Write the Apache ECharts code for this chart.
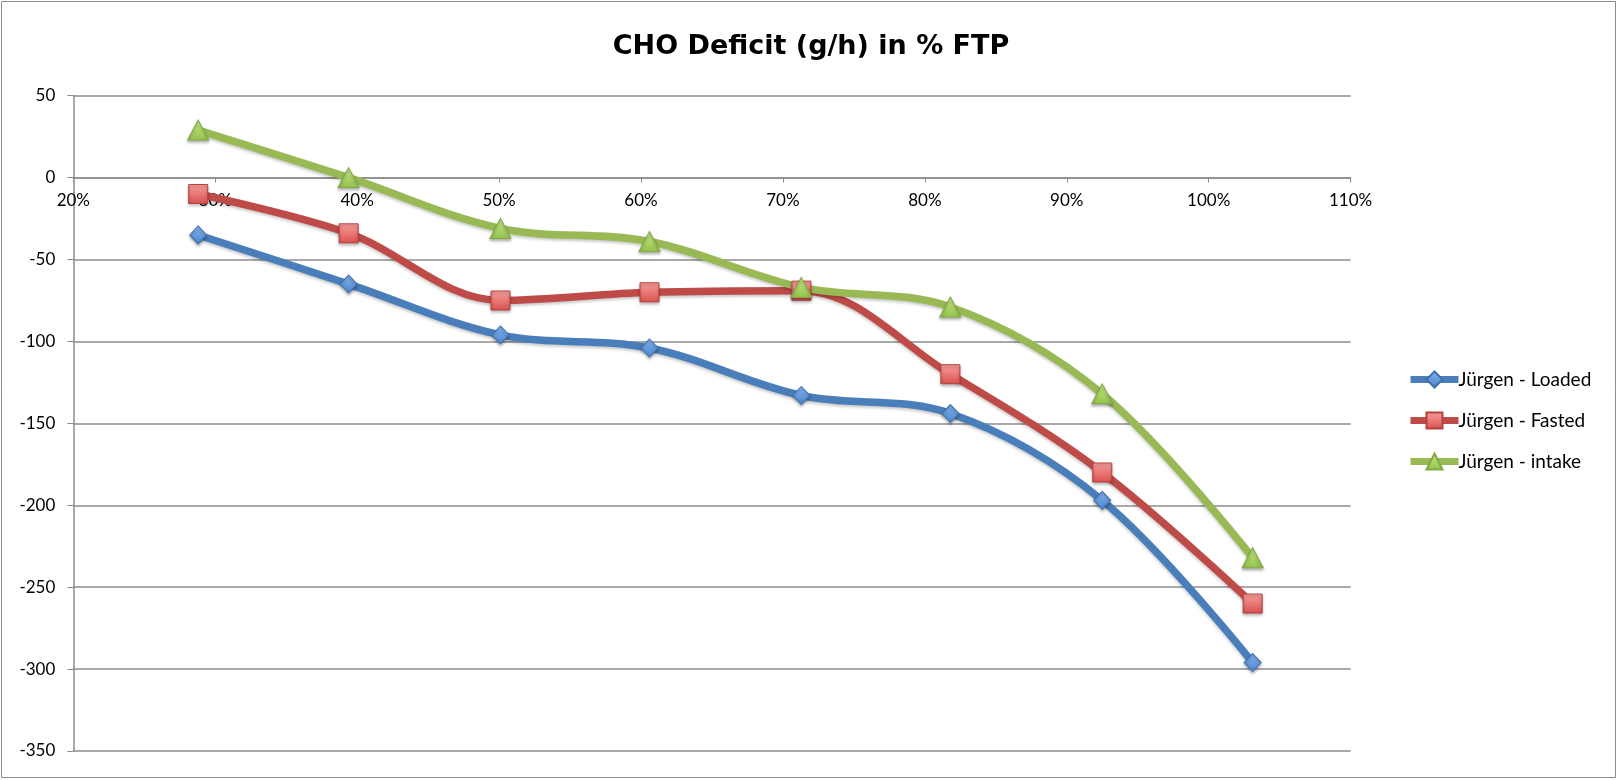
<!DOCTYPE html>
<html>
<head>
<meta charset="utf-8">
<script src="https://cdn.jsdelivr.net/npm/echarts@6/dist/echarts.min.js"></script>
<style>
html,body{margin:0;padding:0;background:#fff;}
#chart{width:1619px;height:780px;}
</style>
</head>
<body>
<div id="chart"></div>
<script>
const titleText = 'CHO Deficit (g/h) in % FTP';
const ftpPct = [28.8, 39.4, 50.1, 60.6, 71.3, 81.8, 92.5, 103.1];
const loaded = [-35, -65, -96, -104, -133, -144, -197, -296];
const fasted = [-10, -34, -75, -70, -69, -120, -180, -260];
const intake = [29, 0, -31, -39, -67, -79, -132, -232];
const seriesNames = ['Jürgen - Loaded', 'Jürgen - Fasted', 'Jürgen - intake'];
const yMin = -350, yMax = 50, yStep = 50;
const xMin = 20, xMax = 110, xStep = 10;

const FONT = 'Lato, "Open Sans", sans-serif';
const TFONT = '"DejaVu Sans", "Open Sans", sans-serif';
const grey = '#8c8c8c';

const GRID_TOP = 95.7, GRID_BOTTOM = 29, H = 780;
const gridH = H - GRID_TOP - GRID_BOTTOM;
const zeroOffset = -(gridH * (0 - yMin) / (yMax - yMin));

function pairs(vals){ return vals.map((v,i)=>[ftpPct[i], v]); }
function grad(light, dark){
  return new echarts.graphic.LinearGradient(0,0,0,1,[{offset:0,color:light},{offset:1,color:dark}]);
}

const styles = [
  {line:'#4a7ebb', symbol:'diamond', size:[17,18], fill:grad('#86b6f2','#4a82cc'), border:'#3f70ad'},
  {line:'#be4b48', symbol:'rect', size:19, fill:grad('#f7a09e','#d9504d'), border:'#b7403d'},
  {line:'#98b954', symbol:'triangle', size:[21,20], fill:grad('#c8ea8a','#93c24a'), border:'#83a944'}
];
const datas = [loaded, fasted, intake];

const chart = echarts.init(document.getElementById('chart'));
chart.setOption({
  backgroundColor:'#fff',
  animation:false,
  title:{
    text:titleText, left:806, top:28, textAlign:'center',
    textStyle:{fontFamily:TFONT, fontSize:27, fontWeight:'bold', color:'#000'}
  },
  graphic:[{type:'rect', shape:{x:1.5,y:1.5,width:1614,height:776}, style:{fill:'none', stroke:'#8c8c8c', lineWidth:1}, silent:true}],
  legend:{
    orient:'vertical', left:1407, top:370, padding:0,
    itemWidth:48, itemHeight:20, itemGap:22,
    lineStyle:{width:7},
    textStyle:{fontFamily:FONT, fontSize:19, color:'#000', padding:[0,0,0,-5]},
    data:seriesNames.map((n,i)=>({name:n, lineStyle:{width:7, color:styles[i].line}}))
  },
  grid:{left:73.3, right:268.4, top:GRID_TOP, bottom:GRID_BOTTOM, containLabel:false},
  xAxis:{
    type:'value', min:xMin, max:xMax, interval:xStep,
    position:'bottom', offset:zeroOffset,
    axisLine:{onZero:false, lineStyle:{color:grey, width:1.5}},
    axisTick:{show:true, length:5, lineStyle:{color:grey}},
    axisLabel:{fontFamily:FONT, fontSize:17, color:'#000', margin:14, formatter: v => v + '%', showMaxLabel:true, showMinLabel:true},
    splitLine:{show:false}
  },
  yAxis:{
    type:'value', min:yMin, max:yMax, interval:yStep,
    axisLine:{show:true, onZero:false, lineStyle:{color:grey, width:1.5}},
    axisTick:{show:true, length:6, lineStyle:{color:grey}},
    axisLabel:{fontFamily:FONT, fontSize:17, color:'#000', margin:18},
    splitLine:{show:true, lineStyle:{color:grey, width:1.5}}
  },
  series: datas.map((d,i)=>({
    name:seriesNames[i], type:'line', smooth:0.35,
    data:pairs(d),
    symbol:styles[i].symbol, symbolSize:styles[i].size,
    lineStyle:{color:styles[i].line, width:7.5, shadowColor:'rgba(0,0,0,0.22)', shadowBlur:3, shadowOffsetY:2},
    itemStyle:{color:styles[i].fill, borderColor:styles[i].border, borderWidth:1, shadowColor:'rgba(0,0,0,0.3)', shadowBlur:3, shadowOffsetY:2},
    emphasis:{disabled:true}
  }))
});
</script>
</body>
</html>
